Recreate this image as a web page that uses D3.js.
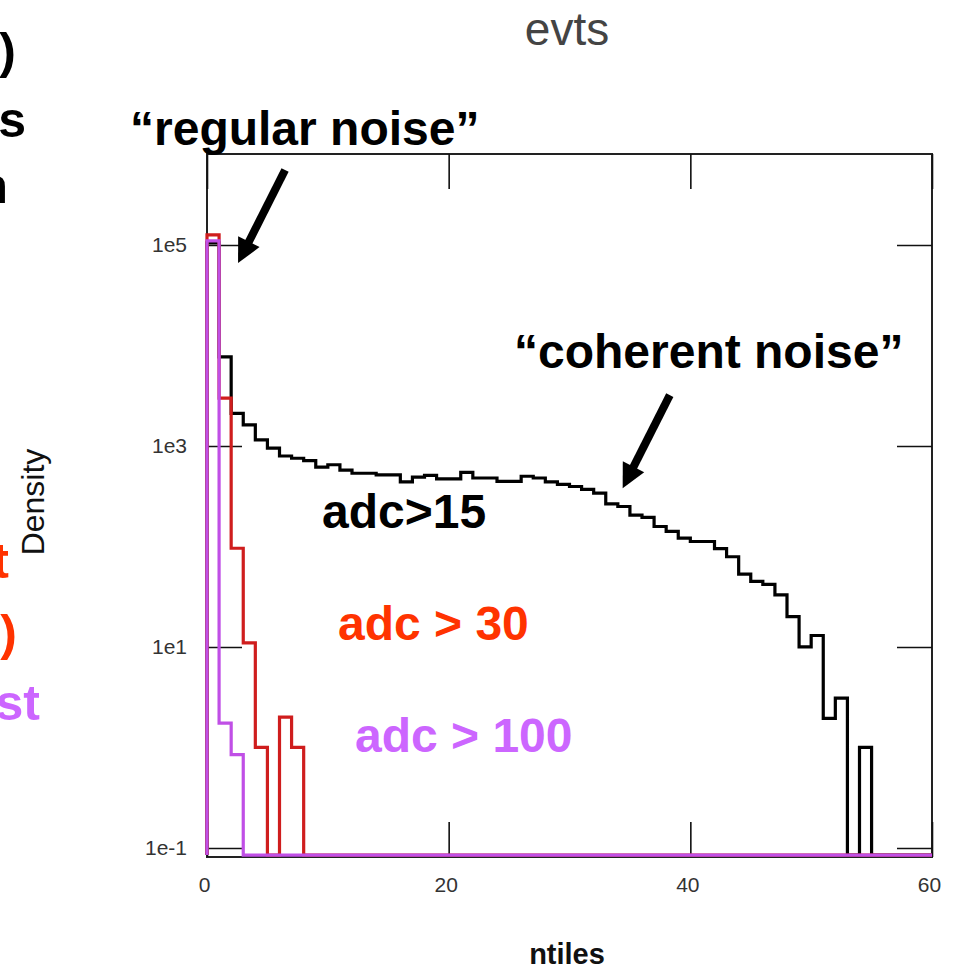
<!DOCTYPE html>
<html>
<head>
<meta charset="utf-8">
<script src="https://cdn.jsdelivr.net/npm/d3@7"></script>
<style>
  html, body { margin: 0; padding: 0; background: #fff; }
  svg { display: block; }
  text { font-family: "Liberation Sans", Arial, sans-serif; }
</style>
</head>
<body>
<svg id="chart" width="953" height="970"></svg>
<script>
// ntiles histogram, unit bins from 0 to 60
const binEdges = d3.range(0, 61);

// adc > 15 (black)
const adc15 = [
  1.05e5, 7700, 2110, 1620, 1150, 950, 795, 755, 715, 615,
  650, 575, 535, 535, 515, 515, 440, 490, 510, 470,
  470, 545, 480, 480, 445, 445, 500, 480, 440, 415,
  395, 370, 340, 265, 250, 205, 195, 158, 141, 121,
  112, 112, 95, 79, 53, 45, 42, 33, 20, 10,
  13, 1.95, 3.1, 0, 1.0, 0, 0, 0, 0, 0
];
// adc > 30 (red)
const adc30 = [
  1.26e5, 2990, 96, 11, 1.0, 0, 2.0, 1.0, 0, 0,
  0, 0, 0, 0, 0, 0, 0, 0, 0, 0,
  0, 0, 0, 0, 0, 0, 0, 0, 0, 0,
  0, 0, 0, 0, 0, 0, 0, 0, 0, 0,
  0, 0, 0, 0, 0, 0, 0, 0, 0, 0,
  0, 0, 0, 0, 0, 0, 0, 0, 0, 0
];
// adc > 100 (violet)
const adc100 = [
  1.1e5, 1.75, 0.85, 0, 0, 0, 0, 0, 0, 0,
  0, 0, 0, 0, 0, 0, 0, 0, 0, 0,
  0, 0, 0, 0, 0, 0, 0, 0, 0, 0,
  0, 0, 0, 0, 0, 0, 0, 0, 0, 0,
  0, 0, 0, 0, 0, 0, 0, 0, 0, 0,
  0, 0, 0, 0, 0, 0, 0, 0, 0, 0
];

const xTicks = [0, 20, 40, 60];
const yTicks = [1e-1, 1e1, 1e3, 1e5];
const yTickLabels = ["1e-1", "1e1", "1e3", "1e5"];

const svg = d3.select("#chart");
const plotLeft = 207, plotRight = 932, plotTop = 154, plotBottom = 857;

const x = d3.scaleLinear().domain([0, 60]).range([plotLeft, plotRight]);
const y = d3.scaleLog().domain([0.0813, 8.04e5]).range([plotBottom, plotTop]);
const floor = 0.085; // empty bins are drawn on this level

function steps(values) {
  const pts = [[binEdges[0], floor]];
  values.forEach((v, i) => {
    const h = v > 0 ? v : floor;
    pts.push([binEdges[i], h], [binEdges[i + 1], h]);
  });
  pts.push([binEdges[binEdges.length - 1], floor]);
  return pts;
}
const line = d3.line().x(d => x(d[0])).y(d => y(d[1]));

// frame
svg.append("rect")
  .attr("x", plotLeft).attr("y", plotTop)
  .attr("width", plotRight - plotLeft).attr("height", plotBottom - plotTop)
  .attr("fill", "none").attr("stroke", "#222").attr("stroke-width", 2);

// axes, ticks pointing inwards
function styleAxis(g) {
  g.select(".domain").remove();
  g.selectAll(".tick line").attr("stroke", "#111").attr("stroke-width", 1.6);
  g.selectAll(".tick text")
    .attr("fill", "#333")
    .style("font-family", "'Liberation Sans', Arial, sans-serif")
    .style("font-size", "21px");
}

svg.append("g")
  .attr("transform", `translate(${plotLeft},0)`)
  .call(d3.axisLeft(y).tickValues(yTicks)
    .tickFormat((d, i) => yTickLabels[i]).tickSize(-35).tickPadding(20))
  .call(styleAxis);

svg.append("g")
  .attr("transform", `translate(${plotRight},0)`)
  .call(d3.axisRight(y).tickValues(yTicks).tickFormat("").tickSize(-35))
  .call(styleAxis);

svg.append("g")
  .attr("transform", `translate(0,${plotBottom})`)
  .call(d3.axisBottom(x).tickValues(xTicks).tickSize(-35).tickPadding(20))
  .call(styleAxis)
  .selectAll(".tick text").attr("dx", -3);

svg.append("g")
  .attr("transform", `translate(0,${plotTop})`)
  .call(d3.axisTop(x).tickValues(xTicks).tickFormat("").tickSize(-35))
  .call(styleAxis);

// histograms
[[adc15, "#000"], [adc30, "#cf1d1d"], [adc100, "#c04fe6"]].forEach(([vals, col]) => {
  svg.append("path")
    .attr("d", line(steps(vals)))
    .attr("fill", "none")
    .attr("stroke", col)
    .attr("stroke-width", 3.2)
    .attr("stroke-linejoin", "miter");
});

// titles
svg.append("text").attr("x", 567).attr("y", 45)
  .attr("text-anchor", "middle").attr("fill", "#444")
  .style("font-size", "46px").text("evts");

svg.append("text").attr("x", 567).attr("y", 964)
  .attr("text-anchor", "middle").attr("fill", "#111")
  .style("font-size", "29px").style("font-weight", "bold").text("ntiles");

svg.append("text")
  .attr("transform", "translate(44,502) rotate(-90)")
  .attr("text-anchor", "middle").attr("fill", "#111")
  .style("font-size", "32px").text("Density");

// annotations
const notes = [
  { t: "\u201cregular noise\u201d", x: 130, y: 145, c: "#000" },
  { t: "\u201ccoherent noise\u201d", x: 514, y: 368, c: "#000" },
  { t: "adc>15", x: 322, y: 528, c: "#000" },
  { t: "adc > 30", x: 338, y: 640, c: "#ff3300" },
  { t: "adc > 100", x: 355, y: 752, c: "#cc66ff" }
];
svg.selectAll("text.note").data(notes).enter().append("text")
  .attr("class", "note")
  .attr("x", d => d.x).attr("y", d => d.y)
  .attr("fill", d => d.c)
  .style("font-size", "48px").style("font-weight", "bold")
  .text(d => d.t);

// text cut off at the left edge of the slide
const cutText = [
  { t: ")", x: 16, y: 68, c: "#000" },
  { t: "s", x: 26, y: 137, c: "#000" },
  { t: "n", x: 8, y: 203, c: "#000" },
  { t: "t", x: 9, y: 578, c: "#ff3300" },
  { t: ")", x: 17, y: 650, c: "#ff3300" },
  { t: "st", x: 40, y: 720, c: "#cc66ff" }
];
svg.selectAll("text.cut").data(cutText).enter().append("text")
  .attr("class", "cut")
  .attr("x", d => d.x).attr("y", d => d.y)
  .attr("text-anchor", "end")
  .attr("fill", d => d.c)
  .style("font-size", "50px").style("font-weight", "bold")
  .text(d => d.t);

// arrows, tip and tail in data coordinates
const arrows = [
  { from: [6.46, 5.57e5], to: [2.57, 6.6e4] },
  { from: [38.3, 3210], to: [34.4, 380] }
];
arrows.forEach(a => {
  const x0 = x(a.from[0]), y0 = y(a.from[1]);
  const x1 = x(a.to[0]), y1 = y(a.to[1]);
  const len = Math.hypot(x1 - x0, y1 - y0);
  const ux = (x1 - x0) / len, uy = (y1 - y0) / len;
  const hl = 24, hw = 12;
  const bx = x1 - hl * ux, by = y1 - hl * uy;
  svg.append("line")
    .attr("x1", x0).attr("y1", y0).attr("x2", bx + ux * 2).attr("y2", by + uy * 2)
    .attr("stroke", "#000").attr("stroke-width", 8);
  svg.append("path")
    .attr("d", `M${x1},${y1}L${bx - hw * uy},${by + hw * ux}L${bx + hw * uy},${by - hw * ux}Z`)
    .attr("fill", "#000");
});
</script>
</body>
</html>
